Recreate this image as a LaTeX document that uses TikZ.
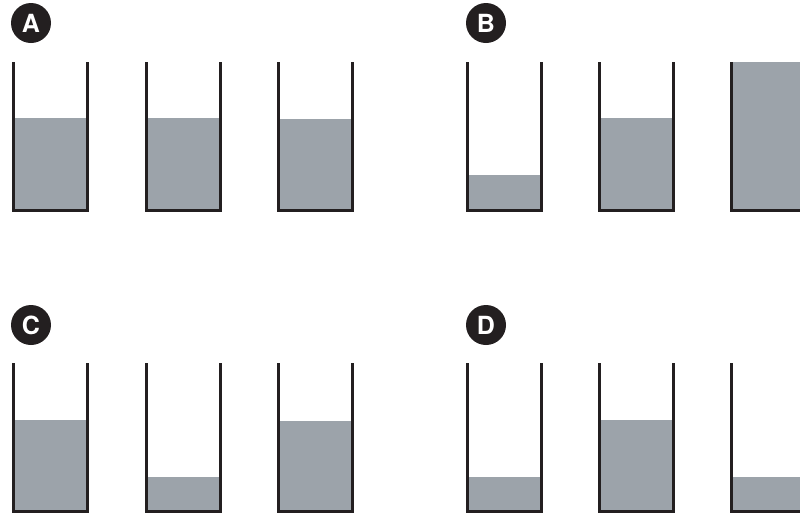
\documentclass[tikz,border=0pt]{standalone}
\usepackage{fontspec}
\newfontfamily\badgefont{TeX Gyre Heros}
\usepackage{tikz}
\usetikzlibrary{positioning}
\usetikzlibrary{calc}
\usepackage{xcolor}

\definecolor{glasswall}{HTML}{231F20}
\definecolor{liquid}{HTML}{9CA3AA}

\tikzset{
    wall/.style={glasswall, line width=3pt, line cap=butt, line join=miter},
    fluid/.style={fill=liquid},
    badge/.style={circle, fill=glasswall, text=white, minimum size=40pt, inner sep=0pt,
        font=\badgefont\bfseries\fontsize{25}{25}\selectfont}
}

\begin{document}
\begin{tikzpicture}[x=1pt,y=-1pt]
    \useasboundingbox (0,0) rectangle (800,515);

    % panel labels
    \node[badge] (labA) at (31,23)  {A};
    \node[badge] (labB) at (486,23) {B};
    \node[badge] (labC) at (31,325) {C};
    \node[badge] (labD) at (486,325) {D};

    % beakers: left edge / top / liquid level
    \foreach \bx/\by/\lvl in {13.5/62/118, 146.5/62/118, 278.5/62/119,
                              467.5/62/175, 599.5/62/118, 731.5/62/62,
                              13.5/363/420, 146.5/363/477, 278.5/363/421,
                              467.5/363/477, 599.5/363/420, 731.5/363/477}
    {
        \fill[fluid] (\bx,\lvl) rectangle ($(\bx,\by)+(74,148)$);
        \draw[wall] (\bx,\by) -- ++(0,148.5) -- ++(74,0) -- ++(0,-148.5);
    }
\end{tikzpicture}
\end{document}
